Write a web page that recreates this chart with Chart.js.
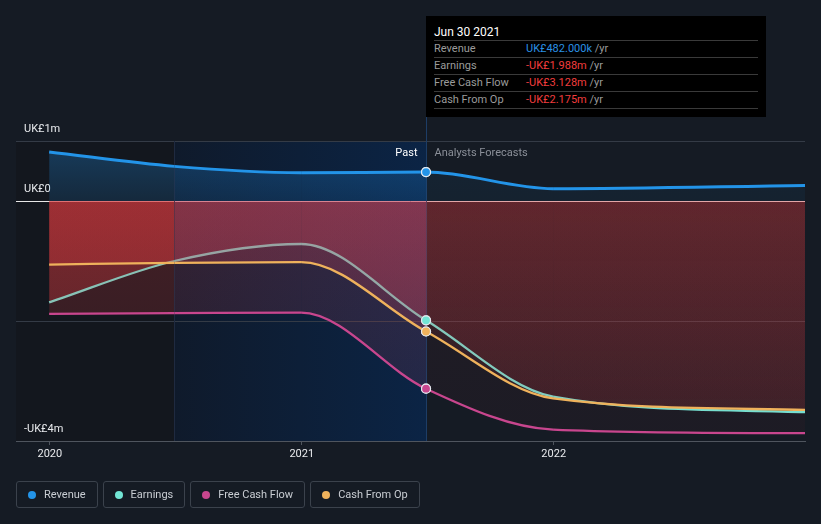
<!DOCTYPE html>
<html>
<head>
<meta charset="utf-8">
<script src="https://cdn.jsdelivr.net/npm/chart.js@4.4.0/dist/chart.umd.min.js"></script>
<style>
  body { margin: 0; background: #151b24; font-family: Roboto, "Noto Sans", sans-serif; }
  #wrap { position: relative; width: 821px; height: 524px; }
  #tip { position: absolute; left: 426px; top: 16px; width: 324px; height: 101px; padding: 0 8px; background: #000; font-size: 11px; }
  #tip .title { color: #fff; font-size: 12px; padding-top: 8px; line-height: 16px; height: 16px; border-bottom: 1px solid #3a3a3a; }
  #tip .row { height: 16px; line-height: 16px; border-bottom: 1px solid #3a3a3a; color: #9b9b9b; display: flex; }
  #tip .row .lbl { width: 92px; }
  #tip .unit { color: #9b9b9b; }
  #legend { position: absolute; left: 16px; top: 481px; display: flex; gap: 5px; }
  #legend .item { box-sizing: border-box; height: 27px; border: 1px solid #3b424c; border-radius: 3px; padding: 0 11px 0 11px; display: flex; align-items: center; color: #c9cdd3; font-size: 11px; }
  #legend .dot { width: 8px; height: 8px; border-radius: 50%; margin-right: 8px; }
</style>
</head>
<body>
<div id="wrap">
  <canvas id="chart" width="821" height="524"></canvas>
  <div id="tip"></div>
  <div id="legend"></div>
</div>
<script>
// values in UK£ millions, one entry per reporting date
const dates = ['2019-12-31', '2020-06-30', '2020-12-31', '2021-06-30', '2021-12-31', '2022-12-31'];
const revenue = [0.817, 0.577, 0.472, 0.482, 0.205, 0.26];
const earnings = [-1.69, -1.0, -0.717, -1.988, -3.26, -3.52];
const freeCashFlow = [-1.88, -1.87, -1.86, -3.128, -3.81, -3.87];
const cashFromOp = [-1.06, -1.03, -1.02, -2.175, -3.29, -3.48];

const pastDate = '2021-06-30';
const highlightStart = '2020-06-30';
const axisStart = '2019-11-13';
const axisEnd = '2022-12-31';
const xTicks = [2020, 2021, 2022];
const yTicks = [-4, -2, 0, 1];
const yTickLabels = ['-UK£4m', '', 'UK£0', 'UK£1m'];

const seriesNames = ['Revenue', 'Earnings', 'Free Cash Flow', 'Cash From Op'];
const seriesColors = ['#2394e8', '#72e5d5', '#c8468e', '#efb25c'];
const seriesValues = [revenue, earnings, freeCashFlow, cashFromOp];

const pastIndex = dates.indexOf(pastDate);
const highlightIndex = dates.indexOf(highlightStart);
const monthNames = ['Jan', 'Feb', 'Mar', 'Apr', 'May', 'Jun', 'Jul', 'Aug', 'Sep', 'Oct', 'Nov', 'Dec'];

function toYear(d) {
    let t = Date.parse(d + 'T00:00:00Z');
    let y = new Date(t).getUTCFullYear();
    let start = Date.UTC(y, 0, 1), end = Date.UTC(y + 1, 0, 1);
    return y + (t - start) / (end - start);
}

function money(v) {
    let a = Math.abs(v);
    let s = v < 0 ? '-' : '';
    if (a < 1) return s + 'UK£' + (a * 1000).toFixed(3) + 'k';
    return s + 'UK£' + a.toFixed(3) + 'm';
}

function fillGradient(chart, rgb, top, bottom, fromV, toV) {
    let y = chart.scales.y;
    if (!y) return 'rgba(' + rgb + ',' + top + ')';
    let g = chart.ctx.createLinearGradient(0, y.getPixelForValue(fromV), 0, y.getPixelForValue(toV));
    g.addColorStop(0, 'rgba(' + rgb + ',' + top + ')');
    g.addColorStop(1, 'rgba(' + rgb + ',' + bottom + ')');
    return g;
}

// fill strengths per series: before the highlighted year, inside it, and forecasts
const fillEarly = [[0.30, 0.14], [0.36, 0.18], [0.24, 0.14], [0.36, 0.18]];
const fillPast = [[0.30, 0.14], [0.30, 0.14], [0.20, 0.10], [0.30, 0.14]];
const fillFuture = [[0.08, 0.06], [0.19, 0.08], [0.06, 0.04], [0.19, 0.08]];

function makeDataset(i) {
    let positive = i === 0;
    return {
        label: seriesNames[i],
        data: dates.map((d, k) => ({ x: toYear(d), y: seriesValues[i][k] })),
        borderColor: seriesColors[i],
        borderWidth: positive ? 3 : 2.3,
        cubicInterpolationMode: 'monotone',
        tension: 0.4,
        pointRadius: ctx => ctx.dataIndex === pastIndex ? 4.5 : 0,
        pointBackgroundColor: seriesColors[i],
        pointBorderColor: '#e4e9ef',
        pointBorderWidth: 1.2,
        fill: positive ? 'origin' : { target: { value: 0 } },
        order: [1, 4, 3, 2][i],
        segment: {
            backgroundColor: ctx => {
                let k = ctx.p0DataIndex;
                if (positive) {
                    let f = k >= pastIndex ? fillFuture[i] : (k >= highlightIndex ? fillPast[i] : fillEarly[i]);
                    return fillGradient(ctx.chart, '33,150,243', f[0], f[1], 1, 0);
                }
                if (k >= pastIndex) return fillGradient(ctx.chart, '220,58,62', fillFuture[i][0], fillFuture[i][1], 0, -4);
                if (k >= highlightIndex) return fillGradient(ctx.chart, '206,67,88', fillPast[i][0], fillPast[i][1], 0, -4);
                return fillGradient(ctx.chart, '220,58,62', fillEarly[i][0], fillEarly[i][1], 0, -4);
            }
        }
    };
}

const backdrop = {
    id: 'backdrop',
    beforeDraw(chart) {
        let { ctx, chartArea: a, scales: { x } } = chart;
        let x1 = x.getPixelForValue(toYear(highlightStart));
        let x2 = x.getPixelForValue(toYear(pastDate));
        ctx.save();
        ctx.fillStyle = '#13171e';
        ctx.fillRect(a.left, a.top, x1 - a.left, a.bottom - a.top);
        let g = ctx.createLinearGradient(x1, 0, x2, 0);
        g.addColorStop(0, '#0f1a2b');
        g.addColorStop(1, '#0b2445');
        ctx.fillStyle = g;
        ctx.fillRect(x1, a.top, x2 - x1, a.bottom - a.top);
        ctx.restore();
    },
    beforeDatasetsDraw(chart) {
        let { ctx, chartArea: a, scales: { x } } = chart;
        let x1 = Math.round(x.getPixelForValue(toYear(highlightStart))) + 0.5;
        let x2 = Math.round(x.getPixelForValue(toYear(pastDate))) + 0.5;
        ctx.save();
        ctx.lineWidth = 1;
        ctx.strokeStyle = '#1f2a40';
        ctx.beginPath();
        ctx.moveTo(x1, a.top);
        ctx.lineTo(x1, a.bottom);
        ctx.stroke();
        ctx.strokeStyle = '#1d3d66';
        ctx.beginPath();
        ctx.moveTo(x2, 117);
        ctx.lineTo(x2, a.bottom);
        ctx.stroke();
        ctx.font = '11px Roboto';
        ctx.textBaseline = 'middle';
        ctx.textAlign = 'right';
        ctx.fillStyle = '#ffffff';
        ctx.fillText('Past', x2 - 9, a.top + 12);
        ctx.textAlign = 'left';
        ctx.fillStyle = '#8b9099';
        ctx.fillText('Analysts Forecasts', x2 + 8, a.top + 12);
        ctx.restore();
    },
    afterDatasetsDraw(chart) {
        // markers sit above every fill
        for (let i = 0; i < chart.data.datasets.length; i++) {
            let p = chart.getDatasetMeta(i).data[pastIndex];
            if (p) p.draw(chart.ctx, chart.chartArea);
        }
    }
};

let canvas = document.getElementById('chart');
let chart = new Chart(canvas.getContext('2d'), {
    type: 'line',
    data: { datasets: seriesNames.map((n, i) => makeDataset(i)) },
    options: {
        responsive: false,
        animation: false,
        events: [],
        layout: { padding: { left: 16, right: 16, top: 141, bottom: 53 } },
        plugins: { legend: { display: false }, tooltip: { enabled: false } },
        scales: {
            x: {
                type: 'linear',
                min: toYear(axisStart),
                max: toYear(axisEnd),
                afterBuildTicks: s => { s.ticks = xTicks.map(v => ({ value: v })); },
                afterFit: s => { s.height = 30; },
                grid: { drawOnChartArea: false, drawTicks: true, tickLength: 4, color: '#4f555e' },
                border: { display: true, color: '#4f555e' },
                ticks: { color: '#e9ebee', font: { family: 'Roboto', size: 11 }, padding: 3, maxRotation: 0, callback: v => String(v) }
            },
            y: {
                min: -4,
                max: 1,
                afterBuildTicks: s => { s.ticks = yTicks.map(v => ({ value: v })); },
                afterFit: s => { s.width = 0; },
                grid: {
                    drawTicks: false,
                    color: ctx => ctx.tick.value === 0 ? '#e8e8e8' : (ctx.tick.value === -4 ? '#4f555e' : '#343b46')
                },
                border: { display: false },
                ticks: {
                    mirror: true,
                    padding: 8,
                    labelOffset: -12,
                    color: '#e9ebee',
                    font: { family: 'Roboto', size: 11 },
                    callback: (v, i) => yTickLabels[i]
                }
            }
        }
    },
    plugins: [backdrop]
});

// static hover card for the last reported date
let tip = document.getElementById('tip');
let pd = new Date(pastDate + 'T00:00:00Z');
let html = '<div class="title">' + monthNames[pd.getUTCMonth()] + ' ' + pd.getUTCDate() + ' ' + pd.getUTCFullYear() + '</div>';
for (let i = 0; i < seriesNames.length; i++) {
    let v = seriesValues[i][pastIndex];
    let c = v < 0 ? '#f23d3d' : '#2a90e4';
    html += '<div class="row"><span class="lbl">' + seriesNames[i] + '</span><span style="color:' + c + '">' + money(v) + '</span><span class="unit">&nbsp;/yr</span></div>';
}
tip.innerHTML = html;

let legend = document.getElementById('legend');
for (let i = 0; i < seriesNames.length; i++) {
    let item = document.createElement('div');
    item.className = 'item';
    item.innerHTML = '<span class="dot" style="background:' + seriesColors[i] + '"></span>' + seriesNames[i];
    legend.appendChild(item);
}
</script>
</body>
</html>
